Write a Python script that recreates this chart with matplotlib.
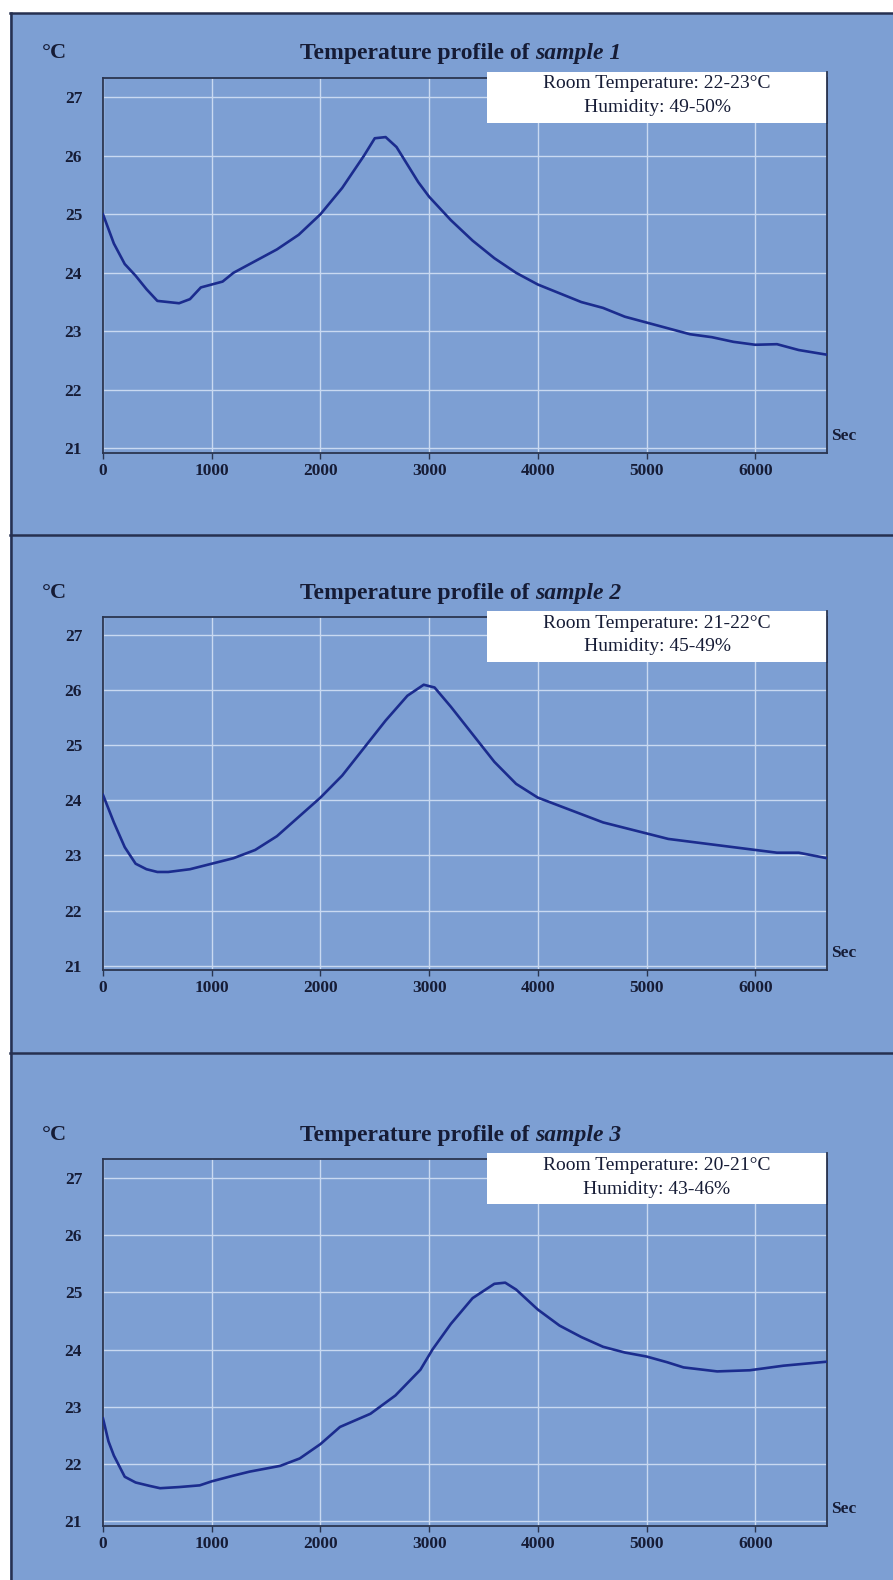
import matplotlib
matplotlib.use('Agg')
import matplotlib.pyplot as plt
from matplotlib.patches import Rectangle
from matplotlib.lines import Line2D

# data
t1 = [0, 50, 100, 200, 300, 400, 500, 600, 700, 800, 900, 1000, 1100, 1200, 1300, 1400, 1500, 1600,
      1800, 2000, 2200, 2400, 2500, 2600, 2700, 2800, 2900, 3000, 3200, 3400, 3600, 3800, 4000,
      4200, 4400, 4600, 4800, 5000, 5200, 5400, 5600, 5800, 6000, 6200, 6400, 6660]
v1 = [25.0, 24.75, 24.5, 24.15, 23.95, 23.72, 23.52, 23.5, 23.48, 23.55, 23.75, 23.8, 23.85, 24.0, 24.1,
      24.2, 24.3, 24.4, 24.65, 25.0, 25.45, 26.0, 26.3, 26.32, 26.15, 25.85, 25.55, 25.3, 24.9, 24.55,
      24.25, 24.0, 23.8, 23.65, 23.5, 23.4, 23.25, 23.15, 23.05, 22.95, 22.9, 22.82, 22.77, 22.78,
      22.68, 22.6]

t2 = [0, 50, 100, 200, 300, 400, 500, 600, 800, 1000, 1200, 1400, 1600, 1800, 2000, 2200, 2400,
      2600, 2800, 2950, 3050, 3200, 3400, 3600, 3800, 4000, 4200, 4400, 4600, 4800, 5000, 5200,
      5400, 5600, 5800, 6000, 6200, 6400, 6660]
v2 = [24.1, 23.85, 23.6, 23.15, 22.85, 22.75, 22.7, 22.7, 22.75, 22.85, 22.95, 23.1, 23.35, 23.7,
      24.05, 24.45, 24.95, 25.45, 25.9, 26.1, 26.05, 25.7, 25.2, 24.7, 24.3, 24.05, 23.9, 23.75,
      23.6, 23.5, 23.4, 23.3, 23.25, 23.2, 23.15, 23.1, 23.05, 23.05, 22.95]

t3 = [0, 50, 100, 200, 300, 430, 525, 700, 890, 1000, 1200, 1350, 1630, 1810, 2000, 2180, 2460,
      2690, 2920, 3030, 3200, 3400, 3600, 3700, 3800, 4000, 4200, 4400, 4600, 4800, 5000, 5190,
      5340, 5650, 5950, 6260, 6660]
v3 = [22.8, 22.4, 22.15, 21.78, 21.68, 21.62, 21.58, 21.6, 21.63, 21.7, 21.8, 21.87, 21.97, 22.1,
      22.35, 22.65, 22.88, 23.2, 23.65, 24.0, 24.45, 24.9, 25.15, 25.17, 25.05, 24.7, 24.42, 24.22,
      24.05, 23.95, 23.88, 23.78, 23.69, 23.62, 23.64, 23.72, 23.79]

samples = ['1', '2', '3']
rooms = ['22-23', '21-22', '20-21']
humid = ['49-50', '45-49', '43-46']
xticks = [0, 1000, 2000, 3000, 4000, 5000, 6000]
yticks = [21, 22, 23, 24, 25, 26, 27]

W, H = 893, 1580
bg = '#7d9fd3'
ink = '#161c36'
line_c = '#1b2c8e'
grid_c = '#c9d9f1'

fig = plt.figure(figsize=(W / 100, H / 100), dpi=100)
fig.patch.set_facecolor('white')
fig.add_artist(Rectangle((10 / W, 0), 1 - 10 / W, 1 - 13 / H, transform=fig.transFigure,
                         facecolor=bg, edgecolor='none', zorder=-5))
# panel borders
for y in [13, 535, 1053]:
    fig.add_artist(Line2D([10 / W, 1], [1 - y / H] * 2, transform=fig.transFigure, color='#263050', lw=1.8))
fig.add_artist(Line2D([11 / W] * 2, [0, 1 - 13 / H], transform=fig.transFigure, color='#263050', lw=1.8))

serif = ['Liberation Serif', 'DejaVu Serif']
tops = [78, 617, 1159]
bottoms = [453, 970, 1526]
titles_y = [53, 593, 1135]
left, right = 103, 827

for i, (t, v) in enumerate([(t1, v1), (t2, v2), (t3, v3)]):
    top, bot = tops[i], bottoms[i]
    ax = fig.add_axes([left / W, 1 - bot / H, (right - left) / W, (bot - top) / H])
    ax.set_facecolor(bg)
    ax.plot(t, v, color=line_c, lw=1.9, zorder=3)
    ax.set_xlim(0, 6660)
    ax.set_ylim(20.92, 27.33)
    ax.set_xticks(xticks)
    ax.set_yticks(yticks)
    ax.set_xticklabels([str(x) for x in xticks], fontfamily=serif, fontweight='bold', fontsize=12.5, color=ink)
    ax.set_yticklabels([str(y) for y in yticks], fontfamily=serif, fontweight='bold', fontsize=12.5, color=ink)
    ax.tick_params(axis='y', length=0, pad=15)
    ax.tick_params(axis='x', length=4, width=1, color='#2a3550', pad=3, direction='out')
    ax.grid(True, color=grid_c, lw=1.0)
    for s in ax.spines.values():
        s.set_color('#2a3550')
        s.set_linewidth(1.3)

    # title: plain part + italic part
    ty = 1 - titles_y[i] / H
    t_a = fig.text(300 / W, ty, 'Temperature profile of ', fontfamily=serif, fontweight='bold',
                   fontsize=17, color=ink, va='center', ha='left')
    ax.annotate('sample ' + samples[i], xy=(1, 0), xycoords=t_a, va='bottom', ha='left',
                fontfamily=serif, fontweight='bold', fontstyle='italic', fontsize=17, color=ink,
                annotation_clip=False)
    fig.text(42 / W, ty, '°C', fontfamily=serif, fontweight='bold', fontsize=16, color=ink, va='center')
    ax.text(1.005, 0.025, 'Sec', transform=ax.transAxes, fontfamily=serif, fontweight='bold',
            fontsize=12.5, color=ink, va='bottom', ha='left')

    # info box
    bt = top - 6
    fig.add_artist(Rectangle((487 / W, 1 - (bt + 51) / H), (right - 487) / W, 51 / H,
                             transform=fig.transFigure, facecolor='white', edgecolor='none', zorder=5))
    fig.add_artist(Line2D([right / W] * 2, [1 - bt / H, 1 - (bt + 51) / H], transform=fig.transFigure,
                          color='#2a3550', lw=1.3, zorder=6))
    cx = (487 + right) / 2 / W
    fig.text(cx, 1 - (bt + 12) / H, 'Room Temperature: ' + rooms[i] + '°C', fontfamily=serif,
             fontsize=14, color=ink, ha='center', va='center', zorder=7)
    fig.text(cx, 1 - (bt + 36) / H, 'Humidity: ' + humid[i] + '%', fontfamily=serif,
             fontsize=14, color=ink, ha='center', va='center', zorder=7)

fig.savefig('out.png', dpi=100, facecolor='white')
